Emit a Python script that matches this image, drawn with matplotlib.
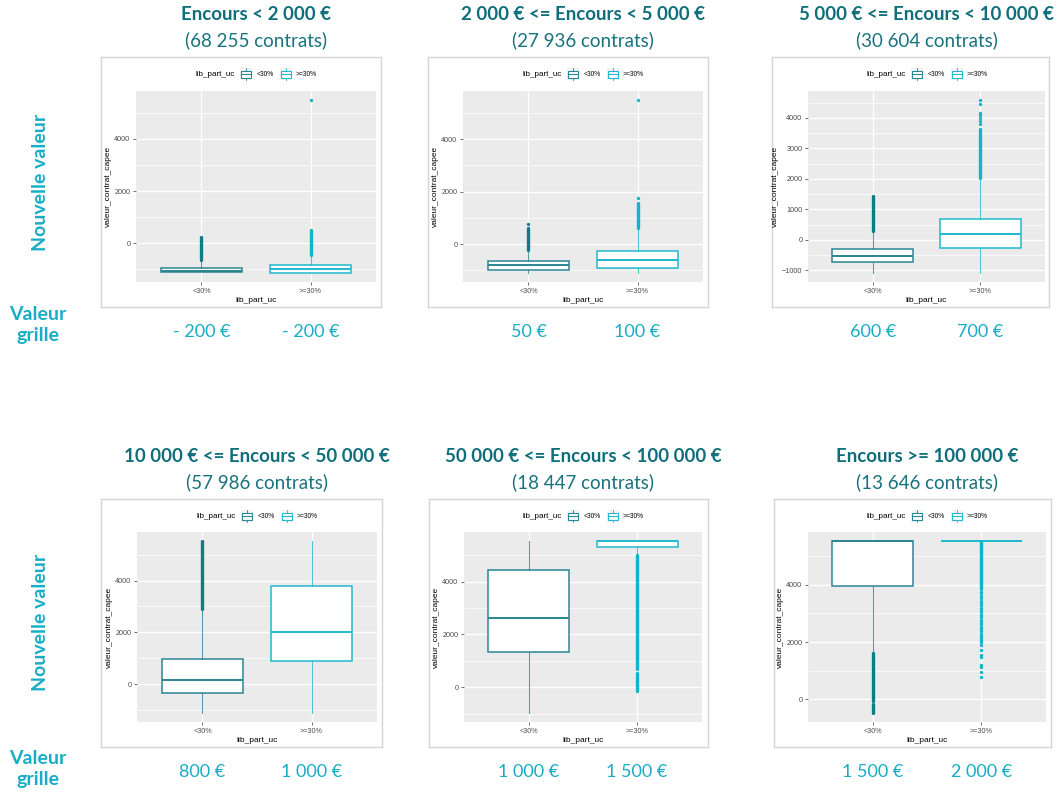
import matplotlib.pyplot as plt
import numpy as np
from matplotlib.patches import Rectangle
from matplotlib.lines import Line2D
from matplotlib.transforms import Affine2D, blended_transform_factory
from matplotlib.ticker import MultipleLocator

W, H = 1058, 792

# Tranches d'encours
titles = ["Encours < 2 000 €", "2 000 € <= Encours < 5 000 €", "5 000 € <= Encours < 10 000 €",
          "10 000 € <= Encours < 50 000 €", "50 000 € <= Encours < 100 000 €", "Encours >= 100 000 €"]
contrats = ["(68 255 contrats)", "(27 936 contrats)", "(30 604 contrats)",
            "(57 986 contrats)", "(18 447 contrats)", "(13 646 contrats)"]
grille_lt30 = ["- 200 €", "50 €", "600 €", "800 €", "1 000 €", "1 500 €"]
grille_ge30 = ["- 200 €", "100 €", "700 €", "1 000 €", "1 500 €", "2 000 €"]
groups = ["<30%", ">=30%"]

# Statistiques des boxplots, part UC < 30%
q1_lt = [-1110, -980, -716, -350, 1350, 3958]
med_lt = [-1050, -790, -518, 170, 2630, 5530]
q3_lt = [-940, -645, -297, 950, 4425, 5536]
lo_lt = [-1110, -1110, -1100, -1130, -985, 1615]
hi_lt = [-650, -205, 284, 2900, 5520, 5536]
bands_lt = [[(-650, 240)], [(-205, 600)], [(284, 1440)], [(2900, 5535)], [], [(-484, -170), (-60, 1615)]]
fliers_lt = [[], [780], [], [], [], []]

# Statistiques des boxplots, part UC >= 30%
q1_ge = [-1150, -900, -264, 880, 5290, 5540]
med_ge = [-980, -590, 175, 2030, 5530, 5540]
q3_ge = [-840, -260, 670, 3770, 5545, 5540]
lo_ge = [-1150, -1110, -1100, -1130, 5000, 5540]
hi_ge = [-430, 610, 2040, 5540, 5545, 5540]
bands_ge = [[(-430, 500)], [(610, 1580)], [(2040, 3650)], [], [(-150, 540), (680, 5000)], [(3850, 5540)]]
fliers_ge = [[5500], [1760, 5500], [3800, 3900, 4000, 4100, 4150, 4450, 4600], [], [],
             [3760, 3700, 3620, 3540, 3450, 3380, 3290, 3200, 3120, 3050, 2950, 2870, 2780, 2700,
              2620, 2540, 2450, 2380, 2300, 2220, 2150, 2080, 2010, 1900, 1730, 1540, 1480,
              1210, 1130, 950, 790]]
y_step = [2000, 2000, 1000, 2000, 2000, 2000]

# Mise en page (pixels)
cards = [(101, 57, 381, 307), (428, 57, 708, 307), (772, 57, 1049, 307),
         (101, 499, 382, 747), (429, 499, 708, 747), (774, 499, 1051, 747)]
panels = [(136, 91, 376, 282), (463, 91, 703, 282), (808, 91, 1045, 282),
          (137, 532, 377, 722), (464, 532, 702, 722), (808, 532, 1046, 722)]

c_title = "#0f6e7b"
c_sub = "#18737f"
c_cyan = "#17adc6"
c_lt, c_lt_pt = "#2a8693", "#0e7b88"
c_ge, c_ge_pt = "#22b9ce", "#12b4cb"
inner_font = ["Liberation Sans", "DejaVu Sans"]
slide_font = ["Lato", "DejaVu Sans"]

fig = plt.figure(figsize=(W / 100, H / 100), dpi=100)
px = Affine2D().scale(1 / W, -1 / H).translate(0, 1) + fig.transFigure


def add_px_axes(box):
    x0, y0, x1, y1 = box
    return fig.add_axes([x0 / W, 1 - y1 / H, (x1 - x0) / W, (y1 - y0) / H])


def legend_key(x, y, color):
    fig.add_artist(Rectangle((x, y - 6), 12, 12, transform=px, facecolor="#f2f2f2",
                             edgecolor="none", zorder=5))
    fig.add_artist(Rectangle((x + 1, y - 3.5), 10, 7, transform=px, facecolor="white",
                             edgecolor=color, linewidth=0.8, zorder=6))
    fig.add_artist(Line2D([x + 1, x + 11], [y, y], transform=px, color=color, lw=0.8, zorder=7))
    fig.add_artist(Line2D([x + 6, x + 6], [y - 6, y - 3.5], transform=px, color=color, lw=0.6, zorder=7))
    fig.add_artist(Line2D([x + 6, x + 6], [y + 3.5, y + 6], transform=px, color=color, lw=0.6, zorder=7))


for i in range(6):
    card = add_px_axes(cards[i])
    card.set_xticks([])
    card.set_yticks([])
    for s in card.spines.values():
        s.set_color("#d6d6d6")
        s.set_linewidth(1.0)

    ax = add_px_axes(panels[i])
    ax.set_facecolor("#ebebeb")
    for s in ax.spines.values():
        s.set_visible(False)

    stats = []
    for q1, med, q3, lo, hi, fl in [(q1_lt[i], med_lt[i], q3_lt[i], lo_lt[i], hi_lt[i], fliers_lt[i]),
                                     (q1_ge[i], med_ge[i], q3_ge[i], lo_ge[i], hi_ge[i], fliers_ge[i])]:
        stats.append(dict(q1=q1, med=med, q3=q3, whislo=lo, whishi=hi, fliers=fl))

    for k, (col, pt) in enumerate([(c_lt, c_lt_pt), (c_ge, c_ge_pt)]):
        ax.bxp([stats[k]], positions=[k + 1], widths=0.75, patch_artist=True, showcaps=False,
               boxprops=dict(facecolor="white", edgecolor=col, linewidth=1.1),
               medianprops=dict(color=col, linewidth=1.4),
               whiskerprops=dict(color=col, linewidth=0.8, alpha=0.8),
               flierprops=dict(marker="o", markersize=2.4, markerfacecolor=pt,
                               markeredgecolor="none"),
               zorder=3)
        for lo, hi in [bands_lt[i], bands_ge[i]][k]:
            ax.vlines(k + 1, lo, hi, color=pt, linewidth=2.4, zorder=4, capstyle="round")

    # Limites avec 5 % d'expansion comme ggplot2
    vals = [lo_lt[i], hi_lt[i], lo_ge[i], hi_ge[i], q3_lt[i], q3_ge[i]]
    vals += [v for b in bands_lt[i] + bands_ge[i] for v in b] + fliers_lt[i] + fliers_ge[i]
    vmin, vmax = min(vals), max(vals)
    pad = 0.05 * (vmax - vmin)
    ax.set_ylim(vmin - pad, vmax + pad)
    ax.set_xlim(0.4, 2.6)

    ax.yaxis.set_major_locator(MultipleLocator(y_step[i]))
    ax.yaxis.set_minor_locator(MultipleLocator(y_step[i] / 2))
    ax.set_xticks([1, 2])
    ax.set_xticklabels(groups)
    ax.grid(True, which="major", color="white", linewidth=1.0, zorder=0)
    ax.grid(True, which="minor", axis="y", color="white", linewidth=0.5, zorder=0)
    ax.set_axisbelow(True)
    ax.tick_params(which="major", length=2.5, width=0.5, color="#333333", labelsize=5.2,
                   labelcolor="#4d4d4d", pad=1.5)
    ax.tick_params(which="minor", length=0)
    for lab in ax.get_xticklabels() + ax.get_yticklabels():
        lab.set_family(inner_font)
    ax.set_xlabel("lib_part_uc", fontsize=6, family=inner_font, labelpad=2)
    ax.set_ylabel("valeur_contrat_capee", fontsize=6, family=inner_font, labelpad=2)

    # Légende en haut du graphique
    x0, y0, x1, y1 = panels[i]
    cx = (x0 + x1) / 2
    ly = cards[i][1] + 17
    fig.text(cx - 21, ly, "lib_part_uc", transform=px, ha="right", va="center",
             fontsize=5.8, family=inner_font, zorder=6)
    legend_key(cx - 16, ly, c_lt)
    fig.text(cx + 0.7, ly, "<30%", transform=px, ha="left", va="center",
             fontsize=4.8, family=inner_font, zorder=6)
    legend_key(cx + 24, ly, c_ge)
    fig.text(cx + 40, ly, ">=30%", transform=px, ha="left", va="center",
             fontsize=4.8, family=inner_font, zorder=6)

    # Titres des tranches
    fig.text(cx, cards[i][1] - 42, titles[i], transform=px, ha="center", va="center",
             fontsize=13.5, fontweight="bold", color=c_title, family=slide_font)
    fig.text(cx, cards[i][1] - 17, contrats[i], transform=px, ha="center", va="center",
             fontsize=13.5, color=c_sub, family=slide_font)

    # Valeurs de la grille sous chaque boîte
    bt = blended_transform_factory(ax.transData, px)
    gy = cards[i][3] + 25
    ax.text(1, gy, grille_lt30[i], transform=bt, ha="center", va="center", fontsize=13,
            color=c_cyan, family=slide_font, clip_on=False)
    ax.text(2, gy, grille_ge30[i], transform=bt, ha="center", va="center", fontsize=13,
            color=c_cyan, family=slide_font, clip_on=False)

# Libellés de lignes
for yc, yg in [(182, 325), (622, 769)]:
    fig.text(40, yc, "Nouvelle valeur", transform=px, rotation=90, ha="center", va="center",
             fontsize=14, fontweight="bold", color=c_cyan, family=slide_font)
    fig.text(38, yg, "Valeur\ngrille", transform=px, ha="center", va="center",
             fontsize=14, fontweight="bold", color=c_cyan, family=slide_font, linespacing=1.3)

fig.savefig("out.png", dpi=100)
